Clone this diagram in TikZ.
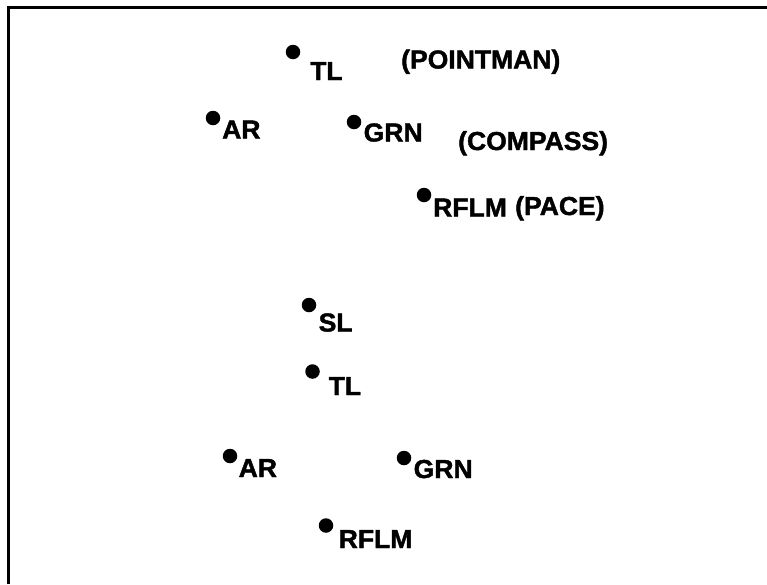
\documentclass[tikz,border=0pt]{standalone}
\usepackage{fontspec}
\newfontfamily\lblfont{Liberation Sans}[FakeStretch=1.02, FakeBold=1.6]
\usepackage{tikz}
\usetikzlibrary{positioning}

\begin{document}
\begin{tikzpicture}[
      x=1pt, y=-1pt,
      man/.style={circle, fill=black, inner sep=0pt, minimum size=14.5pt},
      tag/.style={anchor=base west, inner sep=0pt, font=\lblfont\bfseries\fontsize{26}{31}\selectfont}
    ]
    \useasboundingbox (0,0) rectangle (767,584);

    % frame, open at right and bottom
    \draw[line width=3pt] (8.5,584) -- (8.5,7.5) -- (767,7.5);

    % lead fire team
    \node[man] (tl1)   at (293,52)  {};
    \node[man] (ar1)   at (213,118) {};
    \node[man] (grn1)  at (354,122) {};
    \node[man] (rflm1) at (424,195) {};

    \node[tag] (tl1txt)   at (310,80)    {TL};
    \node[tag] (ar1txt)   at (222,138.5) {AR};
    \node[tag] (grn1txt)  at (363.5,141.5) {GRN};
    \node[tag] (rflm1txt) at (433,216.5) {RFLM};

    \node[tag] (point)   at (401,68.5)  {(POINTMAN)};
    \node[tag] (compass) at (458,150)   {(COMPASS)};
    \node[tag] (pace)    at (515,215) {(PACE)};

    % squad leader
    \node[man] (sl)    at (309,305) {};
    \node[tag] (sltxt) at (318.5,331.5) {SL};

    % trail fire team
    \node[man] (tl2)   at (312.5,371.5) {};
    \node[man] (ar2)   at (230,456)     {};
    \node[man] (grn2)  at (404,458)     {};
    \node[man] (rflm2) at (326,525.5)   {};

    \node[tag] (tl2txt)   at (328.5,395) {TL};
    \node[tag] (ar2txt)   at (238.5,477) {AR};
    \node[tag] (grn2txt)  at (413.5,478) {GRN};
    \node[tag] (rflm2txt) at (338.5,548) {RFLM};
  \end{tikzpicture}
\end{document}
